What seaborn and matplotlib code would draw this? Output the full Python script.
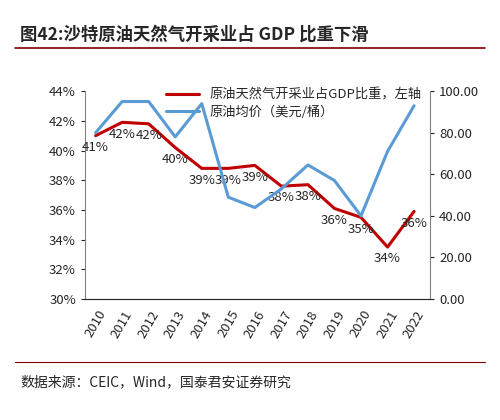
import matplotlib
matplotlib.use("Agg")
import matplotlib.pyplot as plt
import seaborn as sns
import pandas as pd

years = [2010, 2011, 2012, 2013, 2014, 2015, 2016, 2017, 2018, 2019, 2020, 2021, 2022]
gdp_share = [41.0, 41.9, 41.8, 40.2, 38.8, 38.8, 39.0, 37.6, 37.7, 36.1, 35.5, 33.5, 35.9]
share_labels = ["41%", "42%", "42%", "40%", "39%", "39%", "39%", "38%", "38%", "36%", "35%", "34%", "36%"]
oil_price = [80.0, 95.0, 95.0, 78.0, 94.0, 49.0, 44.0, 53.0, 64.5, 57.0, 40.0, 71.0, 93.0]

sns.set_style("white")
plt.rcParams["font.family"] = ["Noto Sans CJK SC", "DejaVu Sans"]

df = pd.DataFrame({"year": years, "share": gdp_share, "oil": oil_price})

fig = plt.figure(figsize=(5, 4.2), dpi=100)
ax = fig.add_axes([0.17, 0.288, 0.69, 0.495])
ax2 = ax.twinx()

sns.lineplot(data=df, x="year", y="share", ax=ax, color="#C00000", lw=2.2,
             label="原油天然气开采业占GDP比重，左轴", legend=False)
sns.lineplot(data=df, x="year", y="oil", ax=ax2, color="#5B9BD5", lw=2.2,
             label="原油均价（美元/桶）", legend=False)

for x, y, t in zip(years, gdp_share, share_labels):
    ax.text(x, y - 0.35, t, ha="center", va="top", fontsize=9.5)

ax.set_ylim(30, 44)
ax.set_yticks(range(30, 45, 2))
ax.set_yticklabels([f"{v}%" for v in range(30, 45, 2)], fontsize=9.5)
ax2.set_ylim(0, 100)
ax2.set_yticks(range(0, 101, 20))
ax2.set_yticklabels([f"{v:.2f}" for v in range(0, 101, 20)], fontsize=9.5)
ax.set_xlim(2009.6, 2022.6)
ax.set_xticks(years)
ax.set_xticklabels([str(y) for y in years], rotation=60, fontsize=9.5)
ax.set_xlabel("")
ax.set_ylabel("")
ax2.set_ylabel("")
for a in (ax, ax2):
    a.spines["top"].set_visible(False)
    a.tick_params(axis="both", length=3, direction="out")
ax.spines["right"].set_visible(False)
ax2.spines["left"].set_visible(False)
ax2.spines["right"].set_color("#808080")
ax.spines["left"].set_color("#808080")
ax.spines["bottom"].set_color("#808080")

h1, l1 = ax.get_legend_handles_labels()
h2, l2 = ax2.get_legend_handles_labels()
ax.legend(h1 + h2, l1 + l2, loc="upper left", bbox_to_anchor=(0.2, 1.07),
          frameon=False, fontsize=9.5, handlelength=2.5, labelspacing=0.3)

fig.text(0.04, 0.905, "图42:沙特原油天然气开采业占 GDP 比重下滑", fontsize=12.5, fontweight="bold")
fig.add_artist(plt.Line2D([0.03, 0.97], [0.885, 0.885], color="#7f0000", lw=1.2))
fig.add_artist(plt.Line2D([0.03, 0.97], [0.138, 0.138], color="#7f0000", lw=0.8))
fig.text(0.04, 0.08, "数据来源：CEIC，Wind，国泰君安证券研究", fontsize=10)

fig.savefig("out.png", dpi=100)
